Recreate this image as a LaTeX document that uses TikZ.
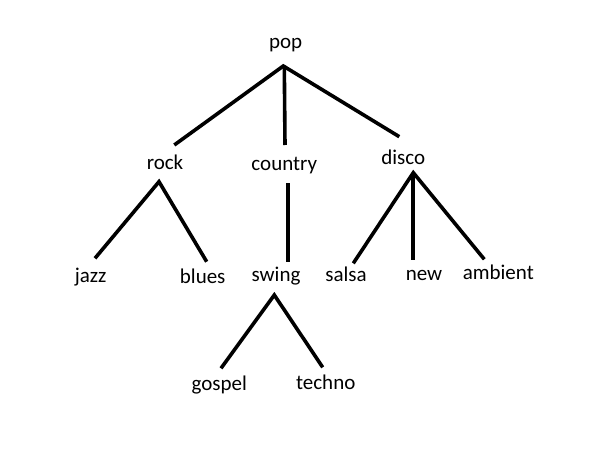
\documentclass[tikz,border=0pt]{standalone}
\usepackage{fontspec}
\setmainfont{Carlito}
\begin{document}
\begin{tikzpicture}[x=1pt,y=-1pt,
  genre/.style={anchor=base,inner sep=0pt,text=black,font=\fontsize{21}{25}\selectfont},
  edge/.style={draw=black,line width=3.6pt}]
\fill[white] (0,0) rectangle (600,452);
\useasboundingbox (0,0) rectangle (600,452);
\node[genre] (pop) at (285.7,49) {pop};
\node[genre] (rock) at (165,169) {rock};
\node[genre] (country) at (284.3,170) {country};
\node[genre] (disco) at (403.3,164) {disco};
\node[genre] (jazz) at (90.7,282) {jazz};
\node[genre] (blues) at (202.7,283) {blues};
\node[genre] (swing) at (276,281.7) {swing};
\node[genre] (salsa) at (346,281.7) {salsa};
\node[genre] (new) at (424,280.7) {new};
\node[genre] (ambient) at (498.3,279.3) {ambient};
\node[genre] (gospel) at (219.3,390) {gospel};
\node[genre] (techno) at (325.7,389.3) {techno};
% pop
\draw[edge] ([xshift=9.3pt,yshift=24pt]rock.base) -- ([xshift=-2.4pt,yshift=-17pt]pop.base) -- ([xshift=-4pt,yshift=27.3pt]disco.base);
\draw[edge] ([xshift=-1.4pt,yshift=-17pt]pop.base) -- ([xshift=0.7pt,yshift=25pt]country.base);
% rock
\draw[edge] ([xshift=4.3pt,yshift=23.7pt]jazz.base) -- ([xshift=-6pt,yshift=-12.7pt]rock.base) -- ([xshift=4pt,yshift=21.3pt]blues.base);
% country
\draw[edge] ([xshift=3.4pt,yshift=-13.3pt]country.base) -- ([xshift=11.7pt,yshift=19.4pt]swing.base);
% disco
\draw[edge] ([xshift=7.3pt,yshift=18.4pt]salsa.base) -- ([xshift=10pt,yshift=-8.7pt]disco.base) -- ([xshift=-14pt,yshift=20pt]ambient.base);
\draw[edge] ([xshift=9.4pt,yshift=-8.7pt]disco.base) -- ([xshift=-11.3pt,yshift=20.7pt]new.base);
% swing
\draw[edge] ([xshift=1.7pt,yshift=21.7pt]gospel.base) -- ([xshift=-1.7pt,yshift=-13.3pt]swing.base) -- ([xshift=-3pt,yshift=22pt]techno.base);
\end{tikzpicture}
\end{document}
